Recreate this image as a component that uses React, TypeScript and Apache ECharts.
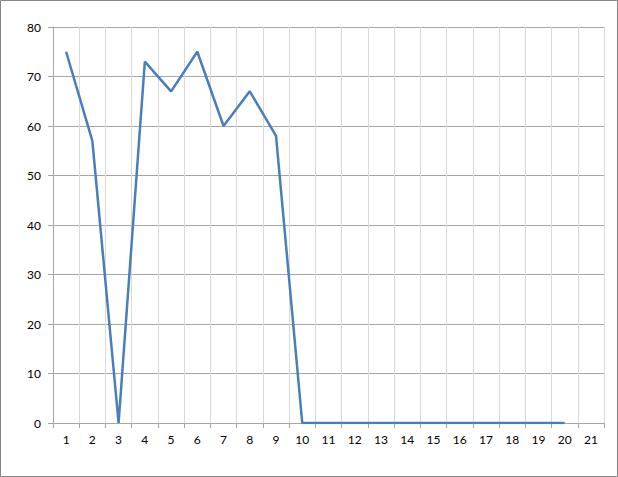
import React, { useEffect, useRef } from "react";
import * as echarts from "echarts";

const categories = ["1","2","3","4","5","6","7","8","9","10","11","12","13","14","15","16","17","18","19","20","21"];
const values: (number | null)[] = [75, 57, 0, 73, 67, 75, 60, 67, 58, 0, 0, 0, 0, 0, 0, 0, 0, 0, 0, 0, null];
const halfSlots = Array.from({ length: categories.length * 2 }, (_, i) => String(i));

export default function App() {
  const ref = useRef<HTMLDivElement>(null);
  useEffect(() => {
    if (!ref.current) return;
    const chart = echarts.init(ref.current, null, { renderer: "svg" });
    chart.setOption({
      animation: false,
      backgroundColor: "#ffffff",
      textStyle: { fontFamily: "Lato" },
      graphic: [
        {
          type: "rect",
          shape: { x: 0.5, y: 0.5, width: 617, height: 476 },
          style: { fill: "none", stroke: "#868686", lineWidth: 1 },
          silent: true,
        },
      ],
      grid: { left: 53, right: 14, top: 27, bottom: 54, containLabel: false },
      xAxis: [
        {
          type: "category",
          data: categories,
          boundaryGap: true,
          axisLine: { show: true, lineStyle: { color: "#a6a6a6", width: 1 } },
          axisTick: { show: true, length: 5, lineStyle: { color: "#a6a6a6" } },
          axisLabel: { color: "#000", fontSize: 12, fontFamily: "Lato", margin: 10 },
          splitLine: { show: false },
          z: 3,
        },
        {
          type: "category",
          data: halfSlots,
          boundaryGap: true,
          position: "bottom",
          axisLine: { show: false },
          axisTick: { show: false },
          axisLabel: { show: false },
          splitLine: { show: true, lineStyle: { color: "#d9d9d9", width: 1 } },
        },
      ],
      yAxis: {
        type: "value",
        min: 0,
        max: 80,
        interval: 10,
        axisLine: { show: true, lineStyle: { color: "#a6a6a6", width: 1 } },
        axisTick: { show: true, length: 5, lineStyle: { color: "#a6a6a6" } },
        axisLabel: { color: "#000", fontSize: 12, fontFamily: "Lato", margin: 12 },
        splitLine: { show: true, lineStyle: { color: "#a6a6a6", width: 1 } },
      },
      series: [
        {
          type: "line",
          data: values,
          xAxisIndex: 0,
          showSymbol: false,
          symbol: "none",
          lineStyle: { color: "#4a7ebb", width: 2.5 },
          itemStyle: { color: "#4a7ebb" },
          z: 5,
        },
      ],
    });
    return () => chart.dispose();
  }, []);
  return (
    <div
      ref={ref}
      style={{ position: "fixed", left: 0, top: 0, width: 618, height: 477 }}
    />
  );
}
